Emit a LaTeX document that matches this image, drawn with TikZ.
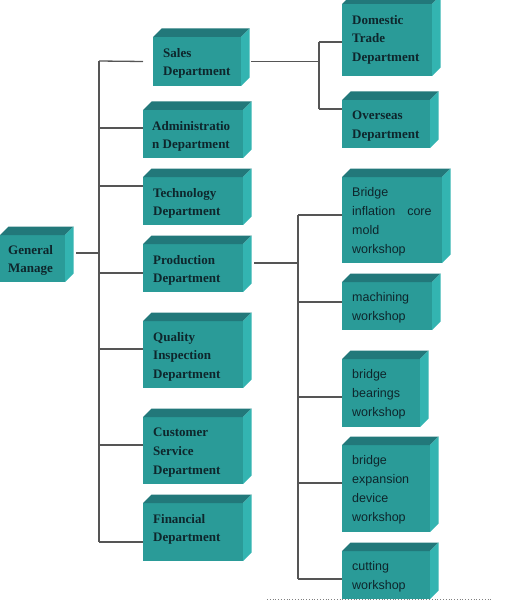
\documentclass[tikz,border=0pt]{standalone}
\usepackage{fontspec}
\setmainfont{Liberation Serif}
\setsansfont{Liberation Sans}
\definecolor{tfront}{HTML}{2A9B98}
\definecolor{ttop}{HTML}{22787A}
\definecolor{tside}{HTML}{33B4B1}
\definecolor{ttext}{HTML}{0E262C}
\definecolor{tline}{HTML}{555555}
\def\dep{8.5}
\newcommand\tealbox[5]{%
  \node[front, minimum width=#4bp, minimum height=#5bp] (#1) at (#2,#3) {};
  \fill[ttop] (#1.north west) -- ++(\dep,-\dep) -- ([shift={(\dep,-\dep)}]#1.north east) -- (#1.north east) -- cycle;
  \fill[tside] (#1.north east) -- ++(\dep,-\dep) -- ([shift={(\dep,-\dep)}]#1.south east) -- (#1.south east) -- cycle;
}
\tikzset{
  front/.style={fill=tfront, inner sep=0pt, outer sep=0pt, anchor=north west},
  conn/.style={draw=tline, line width=1.3bp},
  dlab/.style={font=\fontsize{13bp}{18.7bp}\selectfont\rmfamily\bfseries, text=ttext, align=left, inner sep=0pt, anchor=north west},
  wlab/.style={font=\fontsize{12.5bp}{19bp}\selectfont\sffamily, text=ttext, align=left, inner sep=0pt, anchor=north west},
}
\begin{document}
\begin{tikzpicture}[x=1bp, y=-1bp]
\useasboundingbox (0,0) rectangle (508,600);

% junction coordinates
\coordinate (LT) at (99,61);
\coordinate (LB) at (99,542);
\coordinate (ST) at (319,42);
\coordinate (SB) at (319,109);
\coordinate (PT) at (298,215);
\coordinate (PB) at (298,579);

% boxes (front faces as nodes)
\tealbox{gm}{0}{235}{65}{47}
\tealbox{sales}{153}{37}{88}{49}
\tealbox{admin}{143}{110}{100}{48}
\tealbox{tech}{143}{177}{100}{48}
\tealbox{prod}{143}{244}{100}{48}
\tealbox{qual}{143}{321}{100}{67}
\tealbox{cust}{143}{417}{100}{67}
\tealbox{fin}{143}{503}{100}{58}
\tealbox{dom}{342}{4}{90}{72}
\tealbox{over}{342}{100}{88}{48}
\tealbox{infl}{342}{177}{100}{86}
\tealbox{mach}{342}{282}{90}{48}
\tealbox{bear}{342}{359}{78}{68}
\tealbox{expa}{342}{445}{88}{87}
\tealbox{cut}{342}{551}{88}{48}

% connectors
\draw[conn] (LT) -- (LB);
\draw[conn] ([xshift=11bp]gm.east |- 0,253) -- (LT |- 0,253);
\draw[conn] (LT) -- (sales.west -| 143,0);
\draw[conn] (LT |- 0,128) -- (admin.west |- 0,128);
\draw[conn] (LT |- 0,186) -- (tech.west |- 0,186);
\draw[conn] (LT |- 0,273) -- (prod.west |- 0,273);
\draw[conn] (LT |- 0,349) -- (qual.west |- 0,349);
\draw[conn] (LT |- 0,445) -- (cust.west |- 0,445);
\draw[conn] (LB) -- (fin.west |- LB);

\draw[conn] ([xshift=10bp]sales.east) -- (ST |- sales.east);
\draw[conn] (ST) -- (SB);
\draw[conn] (ST) -- (dom.west |- ST);
\draw[conn] (SB) -- (over.west |- SB);

\draw[conn] ([xshift=11bp]prod.east |- 0,263) -- (PT |- 0,263);
\draw[conn] (PT) -- (PB);
\draw[conn] (PT) -- (infl.west |- PT);
\draw[conn] (PT |- 0,302) -- (mach.west |- 0,302);
\draw[conn] (PT |- 0,397) -- (bear.west |- 0,397);
\draw[conn] (PT |- 0,483) -- (expa.west |- 0,483);
\draw[conn] (PB) -- (cut.west |- PB);

% labels
\node[dlab] (gm-t) at (8,245) {General\\Manage};
\node[dlab] (sales-t) at (163,48) {Sales\\Department};
\node[dlab] (admin-t) at (152,121) {Administratio\\n Department};
\node[dlab] (tech-t) at (153,188) {Technology\\Department};
\node[dlab] (prod-t) at (153,255) {Production\\Department};
\node[dlab] (qual-t) at (153,332) {Quality\\Inspection\\Department};
\node[dlab] (cust-t) at (153,428) {Customer\\Service\\Department};
\node[dlab] (fin-t) at (153,514) {Financial\\Department};
\node[dlab] (dom-t) at (352,15) {Domestic\\Trade\\Department};
\node[dlab] (over-t) at (352,111) {Overseas\\Department};
\node[wlab] (infl-t) at (352,187) {Bridge\\inflation\hspace{12bp}core\\mold\\workshop};
\node[wlab] (mach-t) at (352,292) {machining\\workshop};
\node[wlab] (bear-t) at (352,369) {bridge\\bearings\\workshop};
\node[wlab] (expa-t) at (352,455) {bridge\\expansion\\device\\workshop};
\node[wlab] (cut-t) at (352,561) {cutting\\workshop};

% page-break dotted line
\coordinate (d1) at (267,599);
\coordinate (d2) at (493,599);
\draw[gray, dotted, line width=0.8bp] (d1) -- (d2);
\end{tikzpicture}
\end{document}
